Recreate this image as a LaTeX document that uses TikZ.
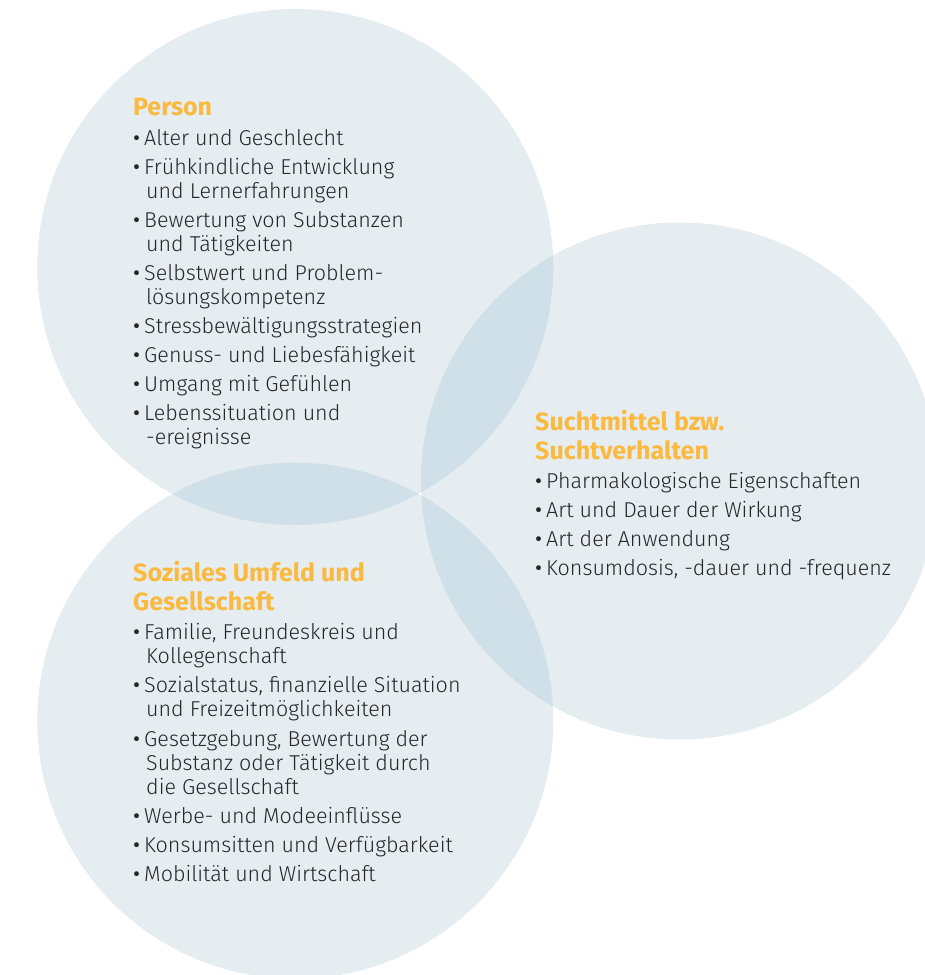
\documentclass[tikz,border=0pt]{standalone}
\usepackage{fontspec}
\setmainfont{Fira Sans}[UprightFont={* Light},BoldFont={* Bold}]
\newfontfamily\bulfont{Fira Sans}
\definecolor{basefill}{HTML}{E6EDF1}
\definecolor{lapfill}{HTML}{CFE0E8}
\definecolor{titleor}{HTML}{FBB940}
\definecolor{txtcol}{HTML}{262626}
\newcommand\hdline[1]{\multicolumn{2}{@{}l@{}}{\fontsize{25}{24}\selectfont\color{titleor}\bfseries #1}}
\newcommand\bul{\makebox[11pt][l]{\bulfont\textbullet}}
\begin{document}
\begin{tikzpicture}[x=1pt,y=-1pt,
  block/.style={anchor=base west, inner sep=0pt, text=txtcol, font=\fontsize{21.5}{24}\selectfont}]
\useasboundingbox (0,0) rectangle (925,975);
\clip (0,0) rectangle (925,975);
\coordinate (cP) at (295.3,267);
\coordinate (cS) at (295.3,720.7);
\coordinate (cM) at (679.5,481);
\fill[basefill] (cP) circle[radius=258];
\fill[basefill] (cS) circle[radius=258];
\fill[basefill] (cM) circle[radius=258.5];
\begin{scope}
  \clip (cP) circle[radius=258];
  \fill[lapfill] (cS) circle[radius=258];
  \fill[lapfill] (cM) circle[radius=258.5];
\end{scope}
\begin{scope}
  \clip (cS) circle[radius=258];
  \fill[lapfill] (cM) circle[radius=258.5];
\end{scope}

\node[block] (person) at (133,115) {\begin{tabular}[t]{@{}l@{}l@{}}
\hdline{Person}\\[6pt]
\bul & Alter und Geschlecht\\[5pt]
\bul & Frühkindliche Entwicklung\\
 & \hspace{2pt}und Lernerfahrungen\\[5pt]
\bul & Bewertung von Substanzen\\
 & \hspace{2pt}und Tätigkeiten\\[5pt]
\bul & Selbstwert und Problem-\\
 & \hspace{2pt}lösungskompetenz\\[5pt]
\bul & Stressbewältigungsstrategien\\[5pt]
\bul & Genuss- und Liebesfähigkeit\\[5pt]
\bul & Umgang mit Gefühlen\\[5pt]
\bul & Lebenssituation und\\
 & \hspace{2pt}-ereignisse
\end{tabular}};

\node[block] (sucht) at (535,430) {\begin{tabular}[t]{@{}l@{}l@{}}
\hdline{Suchtmittel bzw.}\\[3pt]
\hdline{Suchtverhalten}\\[5pt]
\bul & Pharmakologische Eigenschaften\\[5pt]
\bul & Art und Dauer der Wirkung\\[5pt]
\bul & Art der Anwendung\\[5pt]
\bul & Konsumdosis, -dauer und -frequenz
\end{tabular}};

\node[block] (sozial) at (133,581) {\begin{tabular}[t]{@{}l@{}l@{}}
\hdline{Soziales Umfeld und}\\[3pt]
\hdline{Gesellschaft}\\[5pt]
\bul & Familie, Freundeskreis und\\
 & \hspace{2pt}Kollegenschaft\\[5pt]
\bul & Sozialstatus, finanzielle Situation\\
 & \hspace{2pt}und Freizeitmöglichkeiten\\[6pt]
\bul & Gesetzgebung, Bewertung der\\
 & \hspace{2pt}Substanz oder Tätigkeit durch\\
 & \hspace{2pt}die Gesellschaft\\[5pt]
\bul & Werbe- und Modeeinflüsse\\[5pt]
\bul & Konsumsitten und Verfügbarkeit\\[5pt]
\bul & Mobilität und Wirtschaft
\end{tabular}};
\end{tikzpicture}
\end{document}
